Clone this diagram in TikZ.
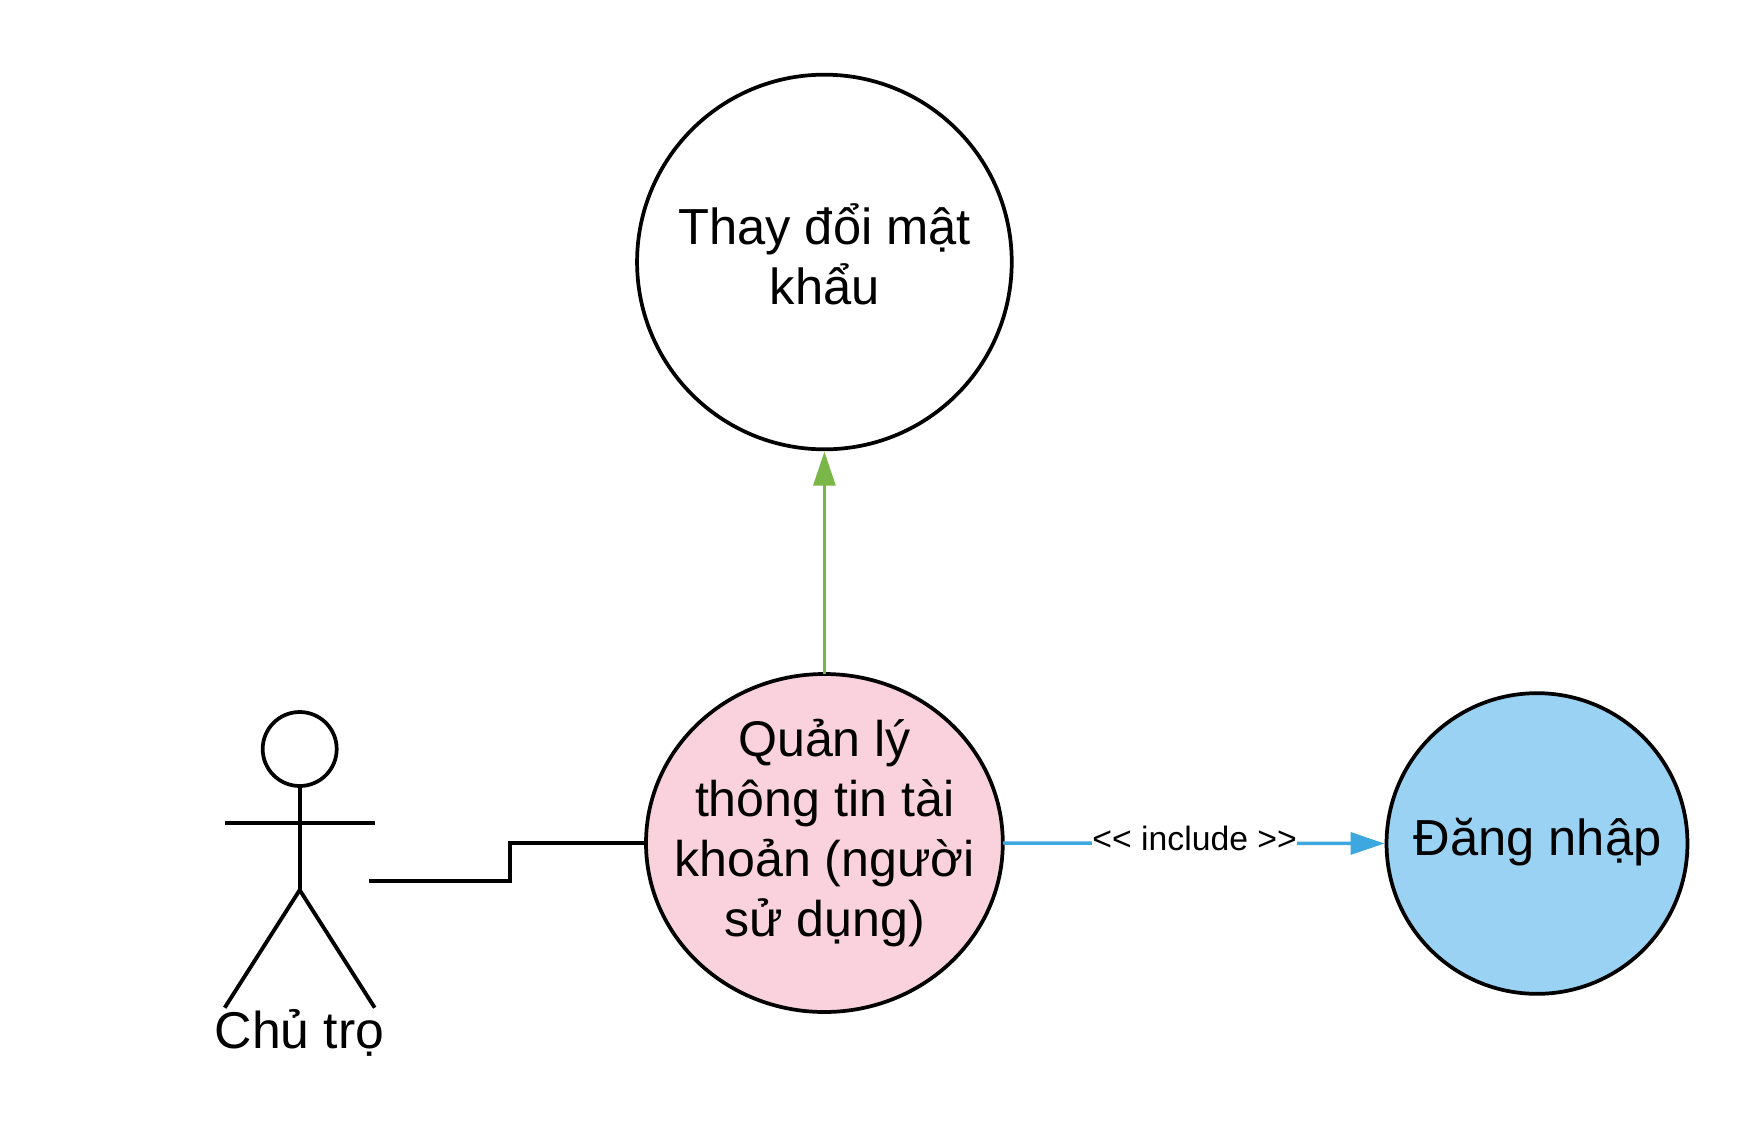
\documentclass[tikz,border=0pt]{standalone}
\usepackage{fontspec}
\setmainfont{Liberation Sans}
\usetikzlibrary{arrows.meta,shapes.geometric}
\definecolor{pinkfill}{HTML}{F9D2DE}
\definecolor{bluefill}{HTML}{9AD2F3}
\definecolor{blueline}{HTML}{3DA7DF}
\definecolor{greenline}{HTML}{7AB648}
\tikzset{
  uc/.style={draw=black,line width=2.8pt,ellipse,inner sep=0pt,outer sep=0pt},
  txt/.style={font=\fontsize{38}{45}\selectfont,align=center,inner sep=0pt,text=black},
  stick/.style={draw=black,line width=2.9pt},
  inclabel/.style={font=\fontsize{25.3}{30}\selectfont,fill=white,inner ysep=0pt,inner xsep=0.4pt,text=black},
  arrowtip/.style={-{Triangle[length=25.5pt,width=16.5pt]}},
}
\begin{document}
\begin{tikzpicture}[x=0.75pt,y=-0.75pt]
\useasboundingbox (0,0) rectangle (1763,1125);
% use cases
\node[uc,fill=white,minimum width=281pt,minimum height=281pt] (change) at (824.4,262) {};
\node[uc,fill=pinkfill,minimum width=267.6pt,minimum height=253.5pt] (manage) at (824.4,843) {};
\node[uc,fill=bluefill,minimum width=225.7pt,minimum height=225.5pt] (login) at (1537,843.5) {};
\node[txt] (changetext) at (824.6,254.6) {Thay đổi mật\\khẩu};
\node[txt,font=\fontsize{37.6}{45}\selectfont] (managetext) at (824.6,833.5) {Quản lý\\thông tin tài\\khoản (người\\sử dụng)};
\node[txt,anchor=base] (logintext) at (1537.5,855) {Đăng nhập};
% actor
\node[draw=black,line width=2.8pt,circle,inner sep=0pt,outer sep=0pt,minimum size=55.5pt,fill=white] (head) at (299.7,749) {};
\coordinate (hip) at (299.7,890);
\coordinate (armL) at (224.7,823.3);
\coordinate (armR) at (374.7,823.3);
\coordinate (legL) at (224.7,1007.7);
\coordinate (legR) at (374.7,1007.7);
\draw[stick] (head.south) -- (hip);
\draw[stick] (armL) -- (armR);
\draw[stick] (legL) -- (hip) -- (legR);
\node[txt,font=\fontsize{38.8}{45}\selectfont,anchor=base] (actorname) at (299.5,1048.7) {Chủ trọ};
% connectors
\coordinate (hand) at (369,880.7);
\coordinate (step) at (509.6,880.7);
\draw[stick,line width=3pt] (hand) -- (step) -- (step |- manage.west) -- (manage.west);
\draw[line width=2.25pt,greenline,arrowtip,shorten >=1.7pt] (manage.north) -- (change.south);
\draw[line width=2.6pt,blueline,arrowtip,shorten >=1.5pt] (manage.east) -- node[inclabel,pos=0.5,yshift=3.4pt] (inc) {<{}< include >{}>} (login.west);
\end{tikzpicture}
\end{document}
